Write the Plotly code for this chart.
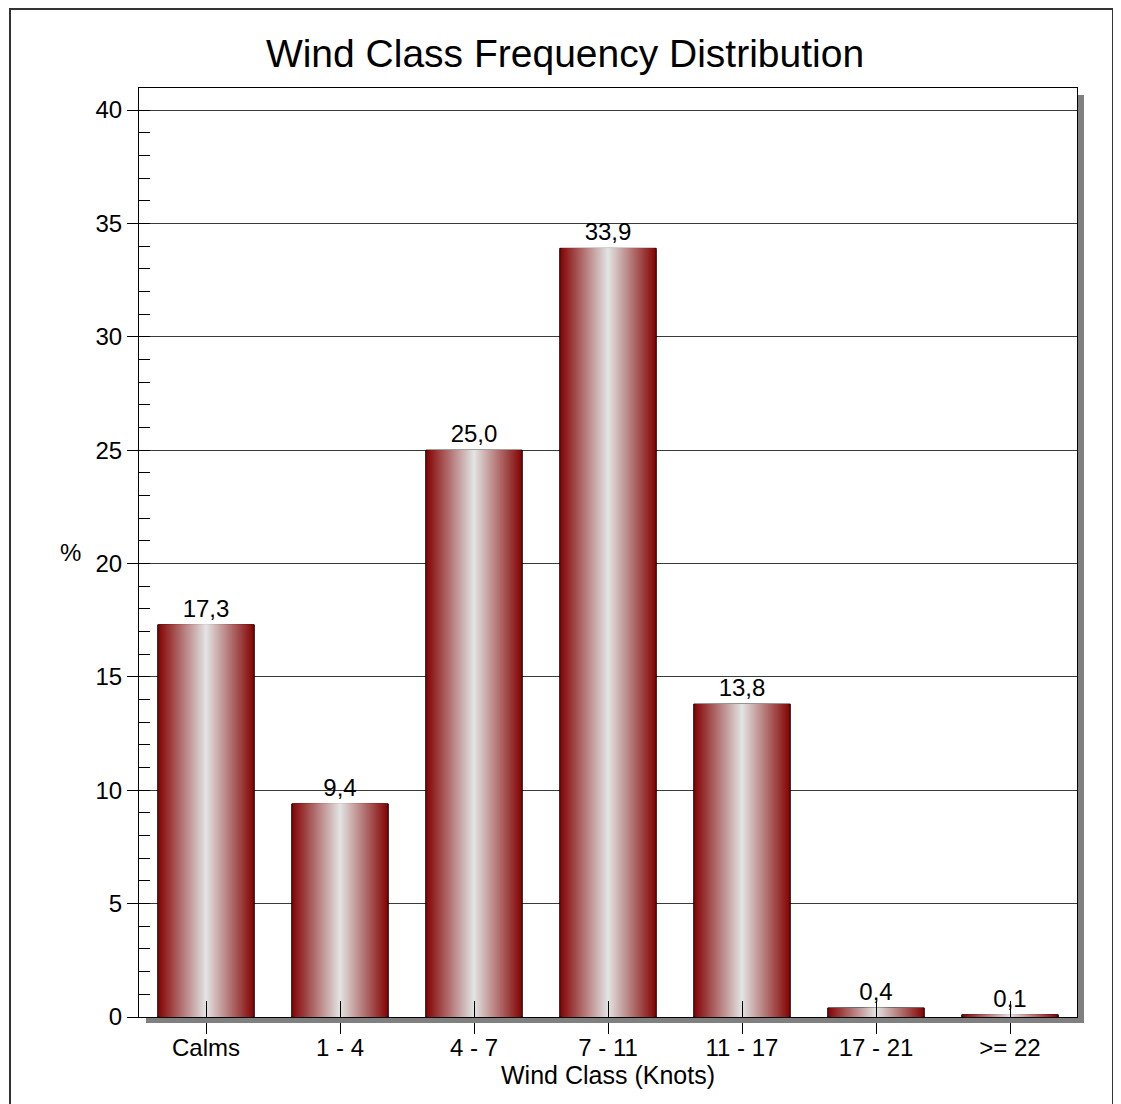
import plotly.graph_objects as go

# ---- data ----
categories = ["Calms", "1 - 4", "4 - 7", "7 - 11", "11 - 17", "17 - 21", ">= 22"]
frequency_pct = [17.3, 9.4, 25.0, 33.9, 13.8, 0.4, 0.1]
y_tick_values = [0, 5, 10, 15, 20, 25, 30, 35, 40]
chart_title = "Wind Class Frequency Distribution"
x_title = "Wind Class (Knots)"
y_title = "%"

# ---- layout geometry (page pixels; page body has an 8px margin) ----
OFF = 8
W, H = 1121 - OFF, 1104 - OFF
L, R, T, B = 139 - OFF, 1077 - OFF, 88 - OFF, 1017 - OFF
pw, ph = R - L, B - T

def px_x(p):
    return (p - OFF - L) / pw

def px_y(p):
    return (B - (p - OFF)) / ph

BAR_W = 0.72
N = 48
edge = (132, 4, 4)
center = (226, 226, 226)

def lerp(a, b, t):
    return tuple(round(a[i] + (b[i] - a[i]) * t) for i in range(3))

font_main = "Liberation Sans, Arial, sans-serif"

fig = go.Figure()
for k in range(N):
    t = k / (N - 1)
    c = lerp(edge, center, t)
    w = BAR_W * (1 - k / N)
    if k == 0:
        kw = dict(
            texttemplate="%{y:.1f}",
            textposition="outside",
            textfont=dict(family=font_main, size=24, color="black"),
            marker=dict(color=f"rgb{c}", line=dict(color="black", width=1)),
            cliponaxis=False,
        )
    else:
        kw = dict(marker=dict(color=f"rgb{c}", line=dict(width=0)))
    fig.add_trace(go.Bar(x=categories, y=frequency_pct, width=w, hoverinfo="skip",
                         showlegend=False, **kw))

# invisible trace for the inside tick overlay axis
fig.add_trace(go.Scatter(x=categories, y=[0] * len(categories), mode="none",
                         xaxis="x2", showlegend=False, hoverinfo="skip"))

fig.update_layout(
    width=W, height=H,
    margin=dict(l=L, r=W - R, t=T, b=H - B, pad=0),
    paper_bgcolor="white", plot_bgcolor="white",
    barmode="overlay",
    separators=",.",
    font=dict(family=font_main, color="black", size=24),
    title=dict(text=chart_title, x=(565 - OFF) / W, xanchor="center", xref="container",
               y=1 - (53 - OFF) / H, yanchor="middle", yref="container",
               font=dict(size=39, family=font_main, color="black")),
    xaxis=dict(
        type="category", categoryorder="array", categoryarray=categories,
        range=[-0.5, len(categories) - 0.5],
        showline=True, linecolor="black", linewidth=1, mirror=True,
        ticks="outside", ticklen=16, tickcolor="black", tickwidth=1,
        tickfont=dict(size=24), ticklabelstandoff=-7,
        showgrid=False, zeroline=False,
        title=dict(text=x_title, font=dict(size=25), standoff=2),
    ),
    xaxis2=dict(
        type="category", categoryorder="array", categoryarray=categories,
        range=[-0.5, len(categories) - 0.5],
        overlaying="x", anchor="y", side="bottom",
        ticks="inside", ticklen=16, tickcolor="black", tickwidth=1,
        showticklabels=False, showgrid=False, showline=False, zeroline=False,
    ),
    yaxis=dict(
        range=[0, 40 * (B - T) / (1017 - 110)],
        tickvals=y_tick_values,
        showline=True, linecolor="black", linewidth=1, mirror=True,
        ticks="outside", ticklen=11, tickcolor="black", tickwidth=1,
        tickfont=dict(size=24),
        showgrid=True, gridcolor="#3a3a3a", gridwidth=1,
        zeroline=False,
        minor=dict(dtick=1, ticks="inside", ticklen=11, tickcolor="black",
                   tickwidth=1, showgrid=False),
    ),
    annotations=[
        dict(text=y_title, x=px_x(70), y=px_y(552), xref="paper", yref="paper",
             showarrow=False, xanchor="center", yanchor="middle",
             font=dict(size=24, family=font_main, color="black")),
    ],
    shapes=[
        # drop shadow right
        dict(type="rect", xref="paper", yref="paper",
             x0=px_x(1078), x1=px_x(1084), y0=px_y(1023), y1=px_y(95),
             fillcolor="#808080", line=dict(width=0), layer="above"),
        # drop shadow bottom
        dict(type="rect", xref="paper", yref="paper",
             x0=px_x(146), x1=px_x(1084), y0=px_y(1023), y1=px_y(1018),
             fillcolor="#808080", line=dict(width=0), layer="above"),
        # outer frame
        dict(type="rect", xref="paper", yref="paper",
             x0=px_x(10), x1=px_x(1113), y0=px_y(1110), y1=px_y(9),
             fillcolor="rgba(0,0,0,0)", line=dict(color="#333333", width=2)),
    ],
)

fig.write_html("out.html")
